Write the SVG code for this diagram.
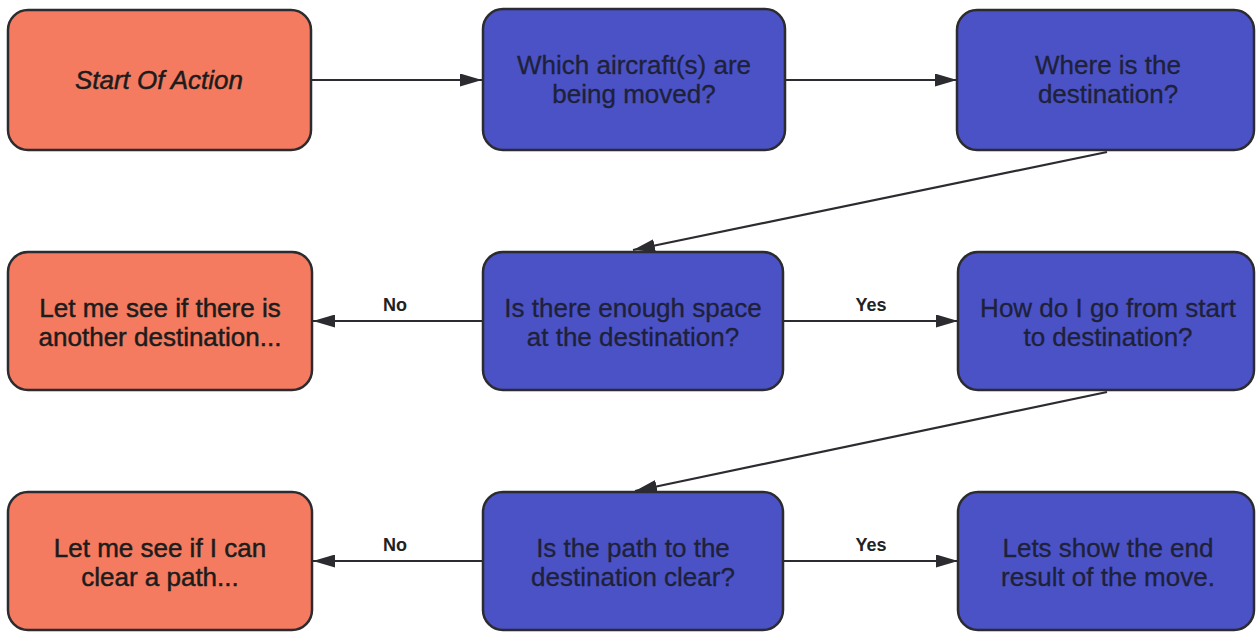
<svg xmlns="http://www.w3.org/2000/svg" width="1256" height="633" viewBox="0 0 1256 633">
<style>
.box{stroke:#2b2b30;stroke-width:2.5}
.or{fill:#f47b60}
.bl{fill:#4a52c6}
.t{font-family:"Liberation Sans",Arial,sans-serif;font-size:26px;text-anchor:middle}
.to{fill:#1c1c1c;stroke:#1c1c1c;stroke-width:0.5}
.tb{fill:#1e2138;stroke:#1e2138;stroke-width:0.3}
.lbl{font-family:"Liberation Sans",Arial,sans-serif;font-size:18px;font-weight:bold;fill:#222;text-anchor:middle}
.c{stroke:#2b2b30;stroke-width:2.2;fill:none;marker-end:url(#ah)}
</style>
<defs>
<marker id="ah" viewBox="0 0 22 13" refX="22" refY="6.5" markerWidth="22" markerHeight="13" markerUnits="userSpaceOnUse" orient="auto">
<path d="M0,0 L22,6.5 L0,13 Z" fill="#2b2b30"/>
</marker>
</defs>
<g id="connectors">
<line class="c" x1="312" y1="80" x2="482" y2="80"/>
<line class="c" x1="785" y1="80" x2="957" y2="80"/>
<line class="c" x1="1107" y1="152" x2="633" y2="250"/>
<line class="c" x1="483" y1="321" x2="313" y2="321"/>
<line class="c" x1="783" y1="321" x2="958" y2="321"/>
<line class="c" x1="1107" y1="392" x2="635" y2="491"/>
<line class="c" x1="483" y1="561" x2="313" y2="561"/>
<line class="c" x1="783" y1="561" x2="958" y2="561"/>
<text class="lbl" x="395" y="311">No</text>
<text class="lbl" x="871" y="311">Yes</text>
<text class="lbl" x="395" y="551">No</text>
<text class="lbl" x="871" y="551">Yes</text>
</g>
<g id="start">
<rect class="box or" x="8" y="10" width="303" height="140" rx="20"/>
<text class="t to" x="159" y="89" font-style="italic">Start Of Action</text>
</g>
<g id="which">
<rect class="box bl" x="483" y="9" width="302" height="141" rx="20"/>
<text class="t tb" x="634" y="74">Which aircraft(s) are</text>
<text class="t tb" x="634" y="103">being moved?</text>
</g>
<g id="where">
<rect class="box bl" x="957" y="10" width="297" height="140" rx="20"/>
<text class="t tb" x="1108" y="74">Where is the</text>
<text class="t tb" x="1108" y="103">destination?</text>
</g>
<g id="another">
<rect class="box or" x="8" y="252" width="304" height="138" rx="20"/>
<text class="t to" x="160" y="317">Let me see if there is</text>
<text class="t to" x="160" y="346">another destination...</text>
</g>
<g id="space">
<rect class="box bl" x="483" y="252" width="300" height="138" rx="20"/>
<text class="t tb" x="633" y="317">Is there enough space</text>
<text class="t tb" x="633" y="346">at the destination?</text>
</g>
<g id="how">
<rect class="box bl" x="958" y="252" width="296" height="138" rx="20"/>
<text class="t tb" x="1108" y="317">How do I go from start</text>
<text class="t tb" x="1108" y="346">to destination?</text>
</g>
<g id="clear">
<rect class="box or" x="8" y="492" width="304" height="138" rx="20"/>
<text class="t to" x="160" y="557">Let me see if I can</text>
<text class="t to" x="160" y="586">clear a path...</text>
</g>
<g id="pathclear">
<rect class="box bl" x="483" y="492" width="300" height="138" rx="20"/>
<text class="t tb" x="633" y="557">Is the path to the</text>
<text class="t tb" x="633" y="586">destination clear?</text>
</g>
<g id="result">
<rect class="box bl" x="958" y="492" width="296" height="138" rx="20"/>
<text class="t tb" x="1108" y="557">Lets show the end</text>
<text class="t tb" x="1108" y="586">result of the move.</text>
</g>
</svg>
